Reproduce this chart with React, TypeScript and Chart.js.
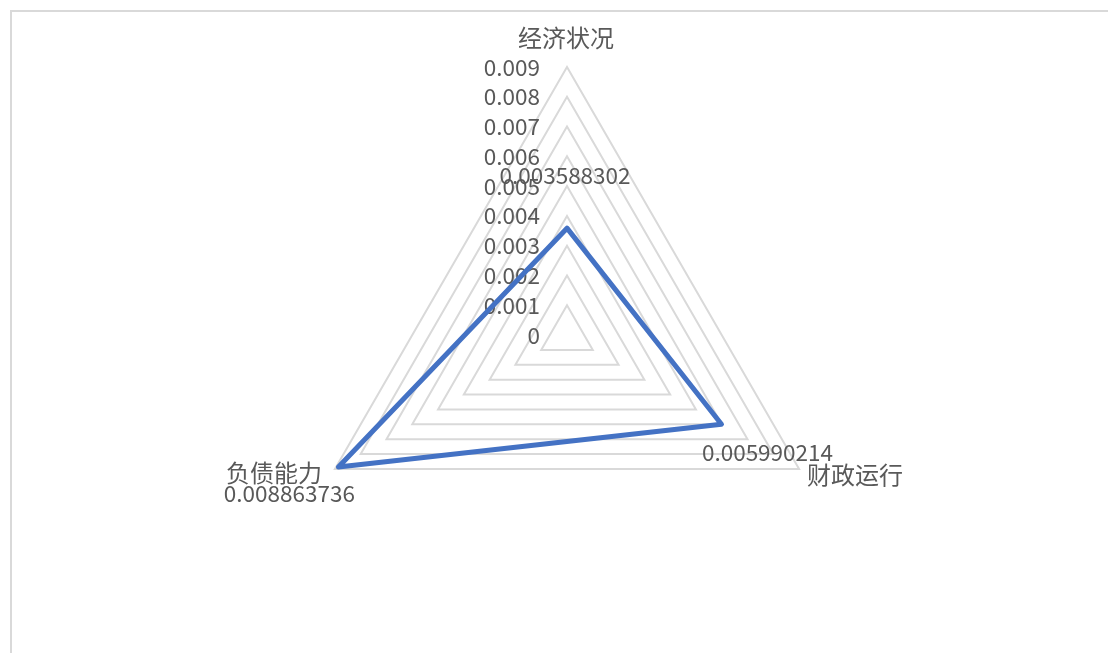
import React, { useEffect, useRef } from "react";
import { Chart, registerables } from "chart.js";

Chart.register(...registerables);

const categories = ["经济状况", "财政运行", "负债能力"];
const values = [0.003588302, 0.005990214, 0.008863736];
const valueLabels = ["0.003588302", "0.005990214", "0.008863736"];
const tickLabels = ["0", "0.001", "0.002", "0.003", "0.004", "0.005", "0.006", "0.007", "0.008", "0.009"];

const FONT = '"Noto Sans CJK SC", "Noto Sans", sans-serif';
const TEXT = "#595959";

// label offsets (px) from the library-computed points
const catOffsets = [
  [-1, -29],
  [56, 6],
  [-61, 4],
];
const valOffsets = [
  [-2, -53],
  [46, 28],
  [-49, 26],
];

const labelPlugin = {
  id: "excelLabels",
  beforeDatasetsDraw(chart: any) {
    const r = chart.scales.r;
    const ctx = chart.ctx;
    ctx.save();
    ctx.font = `22.5px ${FONT}`;
    ctx.fillStyle = TEXT;
    ctx.textAlign = "right";
    ctx.textBaseline = "middle";
    tickLabels.forEach((t) => {
      const d = r.getDistanceFromCenterForValue(parseFloat(t));
      ctx.fillText(t, r.xCenter - 27, r.yCenter - d);
    });
    ctx.restore();
  },
  afterDatasetsDraw(chart: any) {
    const r = chart.scales.r;
    const ctx = chart.ctx;
    ctx.save();
    ctx.fillStyle = TEXT;
    ctx.textAlign = "center";
    ctx.textBaseline = "middle";
    ctx.font = `24px ${FONT}`;
    categories.forEach((c, i) => {
      const p = r.getPointPosition(i, r.drawingArea);
      ctx.fillText(c, p.x + catOffsets[i][0], p.y + catOffsets[i][1]);
    });
    ctx.font = `22.5px ${FONT}`;
    valueLabels.forEach((v, i) => {
      const p = r.getPointPositionForValue(i, values[i]);
      ctx.fillText(v, p.x + valOffsets[i][0], p.y + valOffsets[i][1]);
    });
    ctx.restore();
  },
};

export default function App() {
  const ref = useRef<HTMLCanvasElement | null>(null);
  useEffect(() => {
    if (!ref.current) return;
    const chart = new Chart(ref.current, {
      type: "radar",
      data: {
        labels: categories,
        datasets: [
          {
            data: values,
            borderColor: "#4472C4",
            borderWidth: 5,
            fill: false,
            pointRadius: 0,
            pointHoverRadius: 0,
            borderJoinStyle: "round",
            backgroundColor: "transparent",
          },
        ],
      },
      options: {
        responsive: false,
        animation: false,
        layout: { padding: { left: 299, top: 67, right: 273, bottom: 50 } },
        plugins: { legend: { display: false }, tooltip: { enabled: false } },
        scales: {
          r: {
            min: 0,
            max: 0.009,
            ticks: { display: false, stepSize: 0.001 },
            grid: { color: "#d9d9d9", lineWidth: 2 },
            angleLines: { display: false },
            pointLabels: { display: false },
          },
        },
      },
      plugins: [labelPlugin],
    });
    return () => chart.destroy();
  }, []);
  return (
    <div style={{ position: "fixed", left: 0, top: 0, width: 1108, height: 653, overflow: "hidden", background: "#fff" }}>
      <div
        style={{
          position: "absolute",
          left: 10,
          top: 10,
          width: 1200,
          height: 800,
          borderTop: "2px solid #d9d9d9",
          borderLeft: "2px solid #d9d9d9",
        }}
      />
      <canvas ref={ref} width={1108} height={653} style={{ position: "absolute", left: 0, top: 0, display: "block" }} />
    </div>
  );
}
